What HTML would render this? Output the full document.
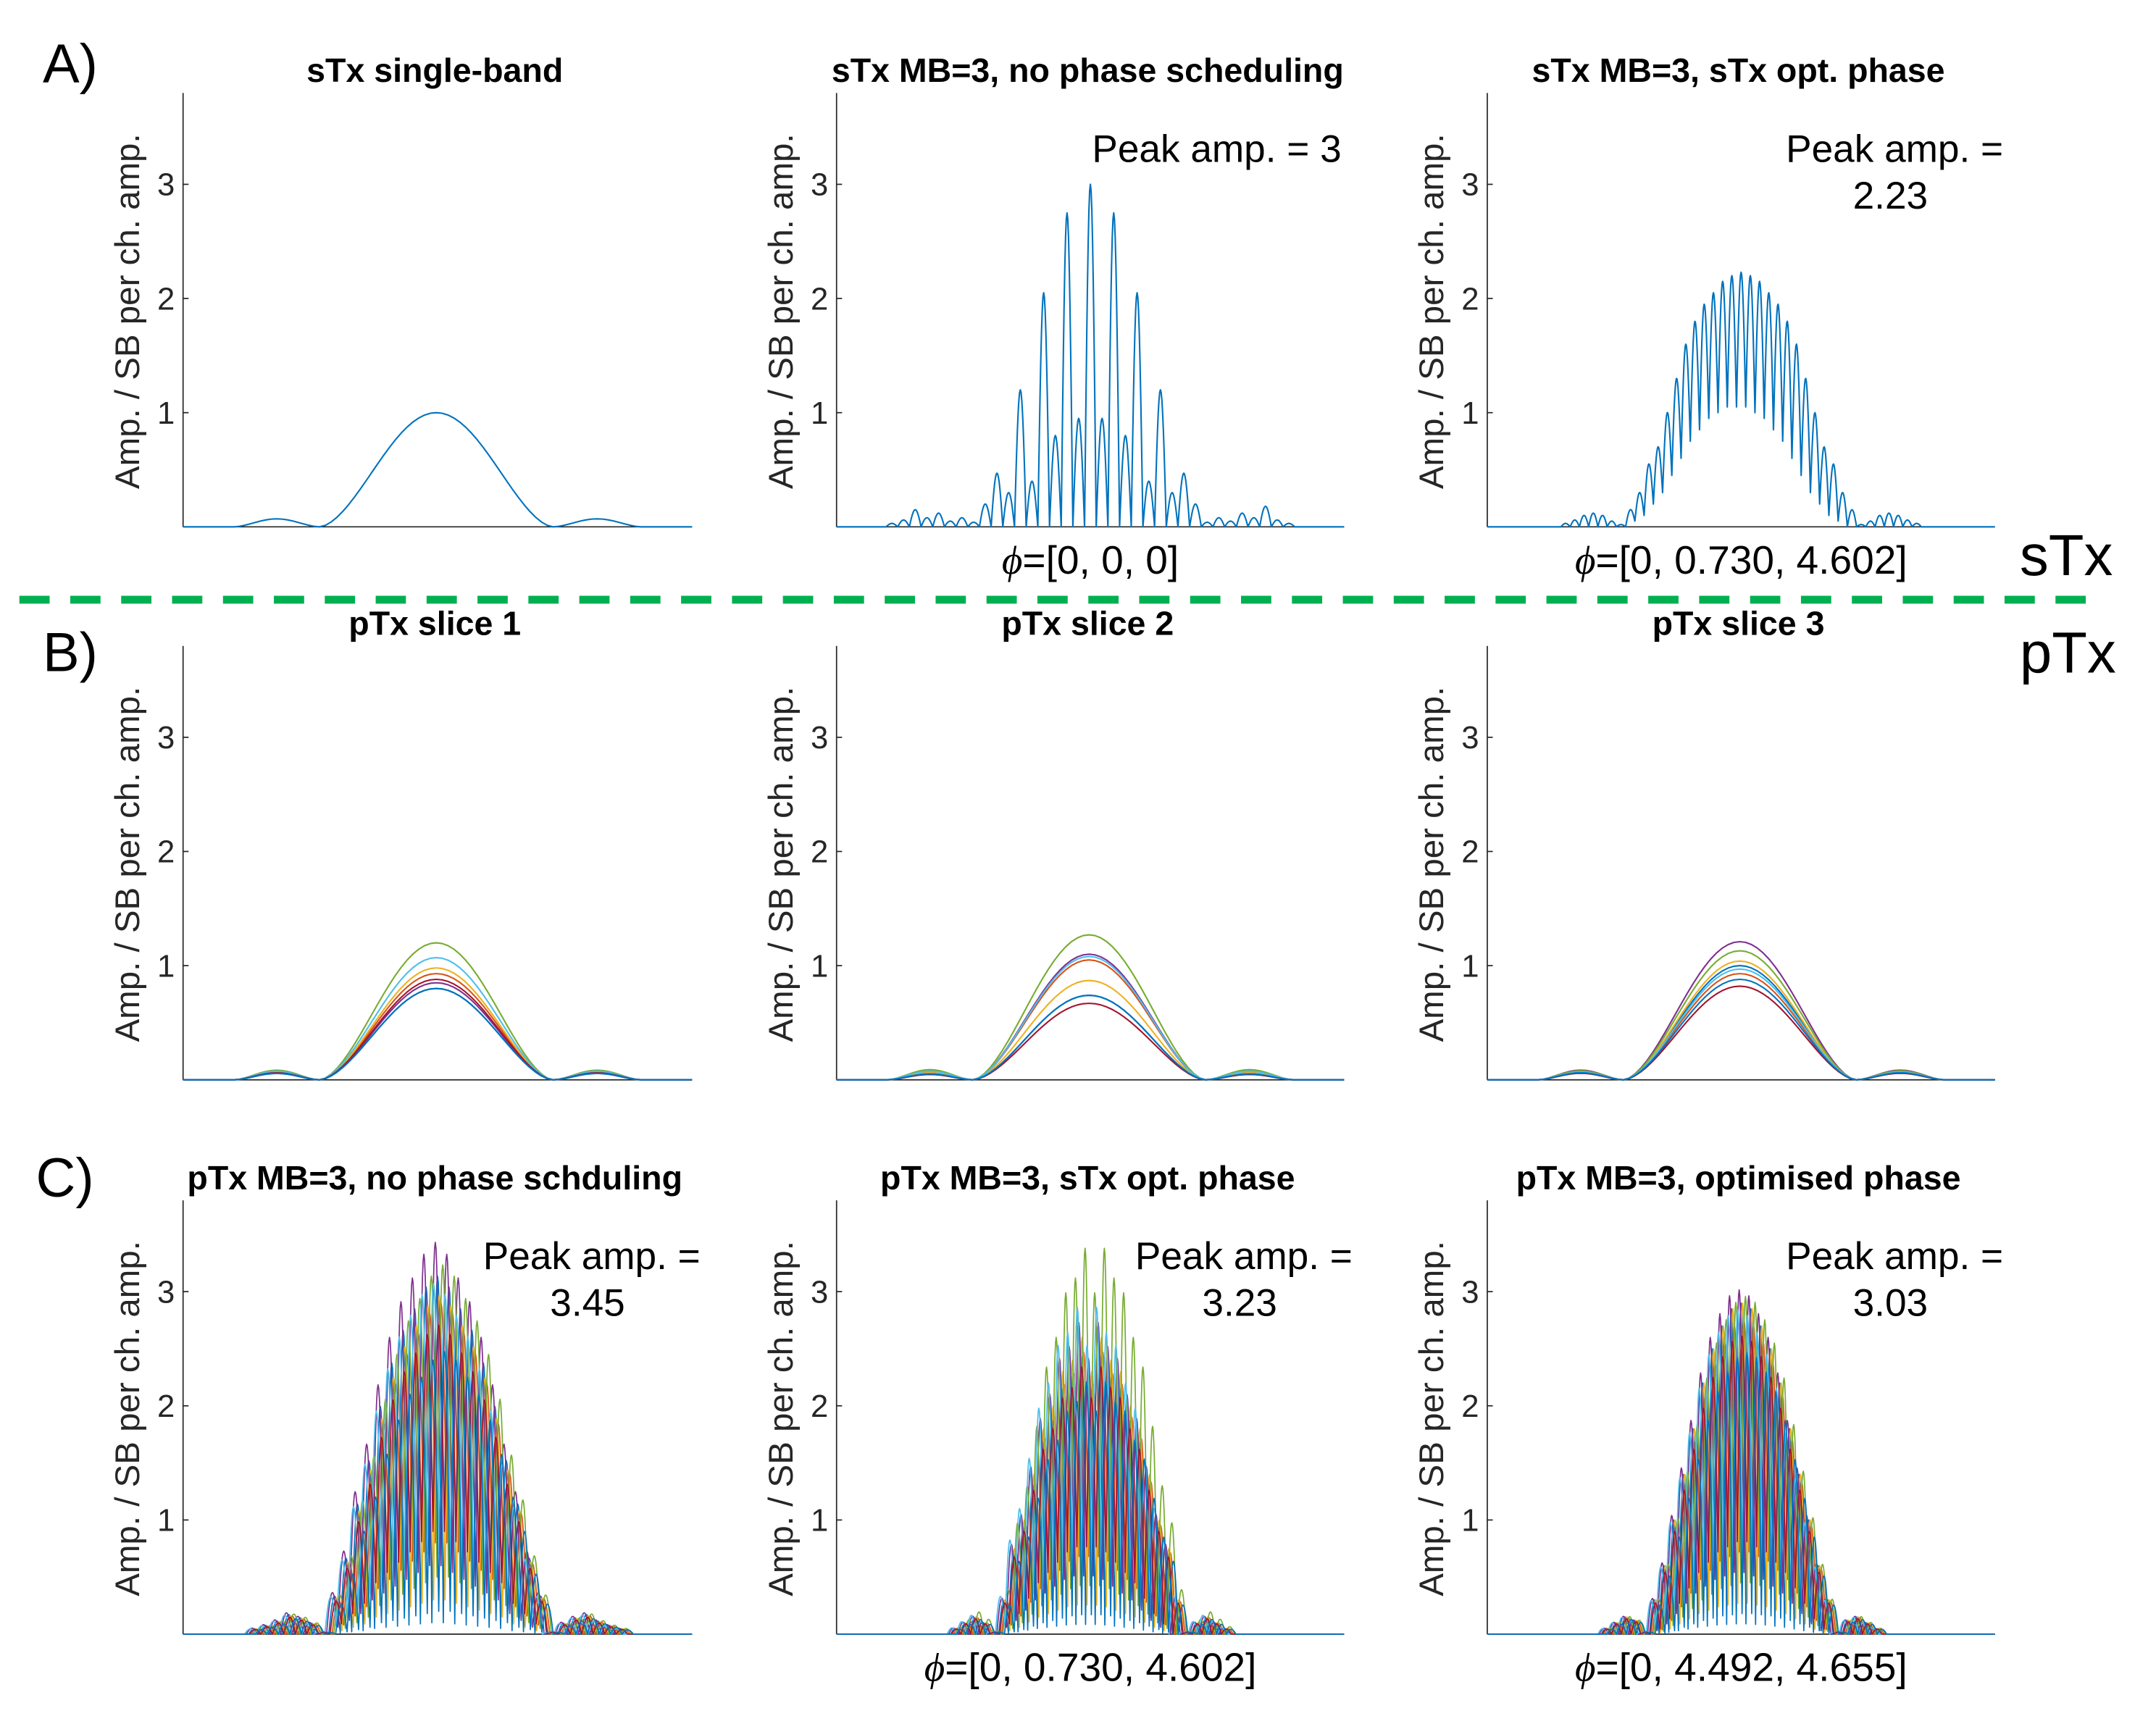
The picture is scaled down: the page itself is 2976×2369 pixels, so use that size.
<!DOCTYPE html>
<html><head><meta charset="utf-8"><style>
html,body{margin:0;padding:0;background:#fff}
svg{display:block}
text{font-family:"Liberation Sans",Arial,sans-serif}
</style></head><body>
<svg id="fig" xmlns="http://www.w3.org/2000/svg" width="2976" height="2369" viewBox="0 0 1567 1247.5">
<rect width="1567" height="1247.5" fill="#fff"/>
<g id="static">
<text x="31" y="60" font-size="40">A)</text>
<text x="31" y="488" font-size="40">B)</text>
<text x="26" y="870" font-size="40">C)</text>
<line x1="14" y1="436" x2="1519" y2="436" stroke="#00B050" stroke-width="5.7" stroke-dasharray="22,15"/>
<text x="1468" y="418" font-size="42">sTx</text>
<text x="1468" y="489" font-size="42">pTx</text>
</g>
<g id="plots"></g>
</svg>
<script>
// ---- data ----
const colors = ["#0072BD","#D95319","#EDB120","#7E2F8E","#77AC30","#4DBEEE","#A2142F","#0072BD"];
const yTicks = [1,2,3];
const titles = [["sTx single-band","sTx MB=3, no phase scheduling","sTx MB=3, sTx opt. phase"],
                ["pTx slice 1","pTx slice 2","pTx slice 3"],
                ["pTx MB=3, no phase schduling","pTx MB=3, sTx opt. phase","pTx MB=3, optimised phase"]];
const phaseLabels = [[null,"=[0, 0, 0]","=[0, 0.730, 4.602]"],[null,null,null],[null,"=[0, 0.730, 4.602]","=[0, 4.492, 4.655]"]];
const peakLabels = [[null,["Peak amp. = 3"],["Peak amp. =","2.23"]],[null,null,null],[["Peak amp. =","3.45"],["Peak amp. =","3.23"],["Peak amp. =","3.03"]]];
// single-band profile: alternating trough/peak sample positions (0..1 across axis) and values
const sbPos = [0.0,0.05,0.1,0.19,0.268,0.4975,0.727,0.805,0.9,0.95,1.0];
const sbVal = [0,0,0,0.07,0,1.0,0,0.07,0,0,0];
// slice peak amplitudes per channel (row B)
const slice1Peaks = [0.80,0.93,0.98,0.85,1.20,1.07,0.88,0.80];
const slice2Peaks = [0.74,1.05,0.87,1.10,1.27,1.08,0.67,0.74];
const slice3Peaks = [1.00,0.93,1.04,1.21,1.13,0.97,0.82,0.88];
// sTx MB=3 no phase: lobe peaks (troughs = 0)
const a2Peaks = [0.03,0.06,0.15,0.08,0.12,0.05,0.08,0.04,0.2,0.47,0.3,1.2,0.4,2.05,0.8,2.75,0.95,3.0,0.95,2.75,0.8,2.05,0.4,1.2,0.3,0.47,0.2,0.04,0.08,0.05,0.12,0.08,0.18,0.06,0.03];
// sTx MB=3 opt phase: lobe peaks & troughs
const a3Peaks = [0.03,0.06,0.1,0.12,0.1,0.05,0.02,0.15,0.3,0.55,0.7,1.0,1.3,1.6,1.8,1.95,2.05,2.15,2.2,2.23,2.2,2.15,2.05,1.95,1.8,1.6,1.3,1.0,0.7,0.55,0.3,0.15,0.02,0.05,0.1,0.12,0.1,0.06,0.03];
const a3Troughs = [0,0,0,0,0,0,0,0,0.05,0.1,0.2,0.3,0.45,0.6,0.75,0.85,0.95,1.0,1.05,1.05,1.05,1.0,0.95,0.85,0.75,0.6,0.45,0.3,0.2,0.1,0.05,0,0,0,0,0,0,0,0,0];
// row C base lobe peaks/troughs
const c1Peaks = [0.05,0.08,0.12,0.18,0.15,0.1,0.02,0.35,0.7,1.2,1.6,2.1,2.5,2.8,3.0,3.2,3.3,3.2,3.0,2.8,2.5,2.1,1.6,1.2,0.7,0.35,0.02,0.1,0.15,0.18,0.12,0.08,0.05];
const c1Troughs = [0,0,0,0,0,0,0,0,0.1,0.2,0.3,0.5,0.6,0.7,0.8,0.9,1.0,1.0,0.9,0.8,0.7,0.6,0.5,0.3,0.2,0.1,0,0,0,0,0,0,0,0];
const c2Peaks = [0.05,0.1,0.15,0.1,0.02,0.3,0.75,1.0,1.4,1.8,2.0,2.3,2.4,2.6,2.3,2.6,2.4,2.3,2.0,1.8,1.4,1.0,0.75,0.3,0.02,0.1,0.15,0.1,0.05];
const c2Troughs = [0,0,0,0,0,0,0.1,0.2,0.35,0.5,0.6,0.7,0.8,0.85,0.85,0.85,0.8,0.7,0.6,0.5,0.35,0.2,0.1,0,0,0,0,0,0,0];
const c3Peaks = [0.05,0.1,0.15,0.12,0.02,0.3,0.6,1.0,1.4,1.8,2.2,2.5,2.7,2.85,2.9,2.85,2.7,2.5,2.2,1.8,1.4,1.0,0.6,0.3,0.02,0.12,0.15,0.1,0.05];
const c3Troughs = [0,0,0,0,0,0,0.05,0.15,0.3,0.45,0.6,0.7,0.8,0.85,0.9,0.9,0.85,0.8,0.7,0.6,0.45,0.3,0.15,0.05,0,0,0,0,0,0];
const c1Gain = [0.95,0.88,0.9,1.04,0.98,0.93,0.82,0.75];
const c2Gain = [0.95,0.95,1.0,1.05,1.3,1.1,0.9,0.85];
const c3Gain = [1.0,0.95,1.0,1.04,1.02,0.98,0.9,0.85];
const troughGain = [0.1,0.8,0.3,0.6,0.5,0.7,0.9,0.2];
const channelShift = [0,0.6,0.3,-0.4,0.9,-0.7,0.2,1.2];
const c1Step = 0.0225, c2Step = 0.019, c3Step = 0.019;
const a2Step = 0.023, a3Step = 0.0182;

// ---- layout ----
const cols=[[133,503],[608,977],[1081,1450]];
const rowBottom=[383,785,1188];
const unit=83, yMax=3.8;
const NS="http://www.w3.org/2000/svg";
const plots=document.getElementById('plots');
function X(t,c){return cols[c][0]+t*(cols[c][1]-cols[c][0]);}
function Y(v,r){return rowBottom[r]-v*unit;}
function mk(tag,attrs,parent){const e=document.createElementNS(NS,tag);for(const k in attrs)e.setAttribute(k,attrs[k]);(parent||plots).appendChild(e);return e;}

// extrema list (alternating trough, peak, trough...) at positions -> path
function extPath(pos,val,r,c,expo){
  expo=expo||1;
  let d="";
  for(let i=0;i+2<pos.length;i+=2){
    const a=val[i],p=val[i+1],b=val[i+2],t0=pos[i],t1=pos[i+2];
    const ns=(t1-t0)>0.2?40:16;
    for(let k=0;k<=ns;k++){
      const u=k/ns, base=a+(b-a)*u;
      const v=base+(p-(a+b)/2)*Math.pow(Math.sin(Math.PI*u),expo);
      const t=t0+(t1-t0)*u;
      if(t<0||t>1) continue;
      d+=(d?"L":"M")+X(t,c).toFixed(2)+","+Y(Math.max(0,v),r).toFixed(2);
    }
  }
  return d;
}
function lobeSeries(peaks,troughs,center,step,shift,pg,tg){
  const n=peaks.length,pos=[],val=[];
  const start=center-(n/2)*step+shift*step/2;
  const end=start+n*step;
  pos.push(0);val.push(0);
  pos.push(start/2);val.push(0);
  for(let j=0;j<n;j++){
    pos.push(start+j*step);val.push((troughs?troughs[j]:0)*tg);
    pos.push(start+(j+0.5)*step);val.push(peaks[j]*pg);
  }
  pos.push(end);val.push((troughs?troughs[n]:0)*tg);
  pos.push((end+1)/2);val.push(0);
  pos.push(1);val.push(0);
  return [pos,val];
}

function axes(r,c){
  const g=mk('g',{});
  
  
  const top=Y(yMax,r), x0=cols[c][0];
  const yl=mk('line',{x1:x0,y1:top,x2:x0,y2:rowBottom[r],stroke:'#262626','stroke-width':0.9},g);
  
  const xl=mk('line',{x1:x0,y1:rowBottom[r],x2:cols[c][1],y2:rowBottom[r],stroke:'#262626','stroke-width':0.9},g);
  
  yTicks.forEach(v=>{
    mk('line',{x1:x0,y1:Y(v,r),x2:x0+4,y2:Y(v,r),stroke:'#262626','stroke-width':0.9},g);
    const tl=mk('text',{x:x0-6,y:Y(v,r)+8,'font-size':23,'text-anchor':'end',fill:'#262626'},g);
    tl.textContent=v;
    
  });
  const cy=(top+rowBottom[r])/2+1, lx=x0-32;
  const lab=mk('text',{x:lx,y:cy,'font-size':25,'text-anchor':'middle',fill:'#262626',transform:`rotate(-90 ${lx} ${cy})`},g);
  lab.textContent="Amp. / SB per ch. amp.";
  
  const xc=(cols[c][0]+cols[c][1])/2;
  const tt=mk('text',{x:xc-2,y:top-8,'font-size':24.5,'font-weight':'bold','text-anchor':'middle',fill:'#000'},g);
  tt.textContent=titles[r][c];
  
  if(phaseLabels[r][c]){
    const pt=mk('text',{x:xc,y:rowBottom[r]+34,'font-size':29,'text-anchor':'middle',fill:'#000'},g);
    const s=mk('tspan',{'font-style':'italic','font-family':'"Liberation Serif",serif'},pt);s.textContent="\u03d5";
    const s2=mk('tspan',{},pt);s2.textContent=phaseLabels[r][c];
    
  }
  const pk=peakLabels[r][c];
  if(pk){
    const t1=mk('text',{x:cols[c][1]-(pk.length==1?2:-6),y:top+50,'font-size':28,'text-anchor':'end',fill:'#000'},g);
    t1.textContent=pk[0];
    
    if(pk[1]){
      const t2=mk('text',{x:cols[c][1]-76,y:top+84,'font-size':28,'text-anchor':'middle',fill:'#000'},g);
      t2.textContent=pk[1];
      
    }
  }
}
function line(d,col,name,w){
  const p=mk('path',{d:d,fill:'none',stroke:col,'stroke-width':w||1.1,'stroke-linejoin':'round'});
  
  
}
for(let r=0;r<3;r++)for(let c=0;c<3;c++)axes(r,c);

// Row A
line(extPath(sbPos,sbVal,0,0,1.7),colors[0],'single-band-profile');
let s=lobeSeries(a2Peaks,null,0.5,a2Step,0,1,0); line(extPath(s[0],s[1],0,1),colors[0],'mb3-no-phase-profile');
s=lobeSeries(a3Peaks,a3Troughs,0.5,a3Step,0,1,1); line(extPath(s[0],s[1],0,2),colors[0],'mb3-opt-phase-profile');
// Row B
[slice1Peaks,slice2Peaks,slice3Peaks].forEach((pk,c)=>{
  pk.forEach((g,k)=>{ line(extPath(sbPos,sbVal.map(v=>v*g),1,c,1.7),colors[k],'slice'+(c+1)+'-channel-'+(k+1)); });
});
// Row C
[[c1Peaks,c1Troughs,c1Gain,c1Step],[c2Peaks,c2Troughs,c2Gain,c2Step],[c3Peaks,c3Troughs,c3Gain,c3Step]].forEach((d,c)=>{
  d[2].forEach((g,k)=>{
    const ss=lobeSeries(d[0],d[1],0.5,d[3],channelShift[k],g,troughGain[k]);
    line(extPath(ss[0],ss[1],2,c),colors[k],'mb3-ptx-'+(c+1)+'-channel-'+(k+1),0.9);
  });
});
</script>
</body></html>
